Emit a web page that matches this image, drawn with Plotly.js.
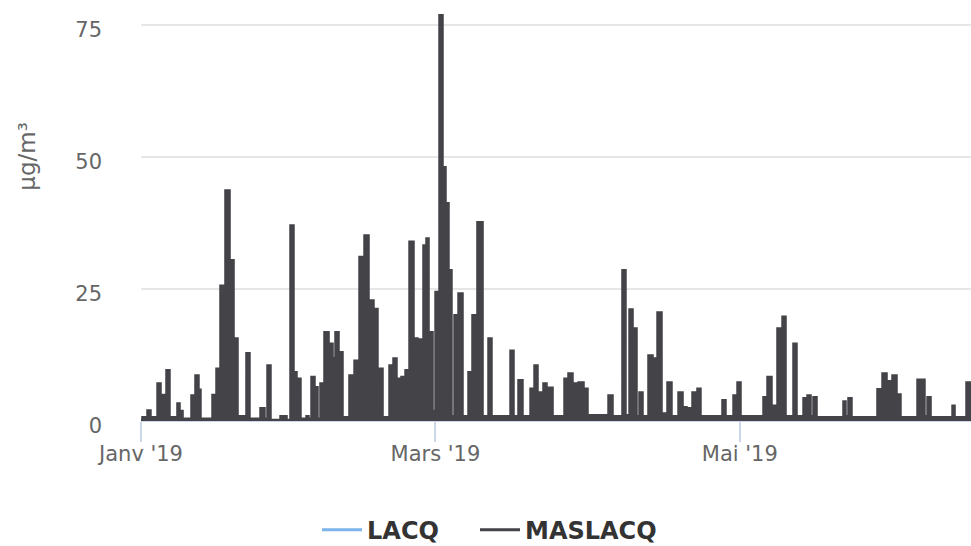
<!DOCTYPE html>
<html>
<head>
<meta charset="utf-8">
<script src="https://cdn.plot.ly/plotly-3.0.1.min.js"></script>
<style>
  html, body { margin: 0; padding: 0; background: #ffffff; }
  #chart { width: 971px; height: 546px; }
</style>
</head>
<body>
<div id="chart"></div>
<script>
// Start of series: 2019-01-01 00:00 UTC; offsets are in days (step series, each value holds until the next offset)
const seriesStart = Date.UTC(2019, 0, 1);

const maslacqDays = [0, 0.20, 1.20, 2.00, 3.21, 4.01, 5.01, 5.81, 7.21, 7.82, 8.42, 10.02, 10.82, 11.62, 12.02,
  14.23, 15.03, 15.83, 16.83, 17.84, 18.64, 19.44, 21.04, 21.84, 23.85, 24.85, 25.25, 26.05, 27.86, 29.26,
  29.86, 30.66, 31.26, 32.06, 33.07, 33.67, 34.07, 34.87, 35.47, 35.87, 36.67, 37.68, 38.48, 38.88, 39.68,
  40.48, 41.68, 42.69, 43.69, 44.69, 45.69, 46.69, 47.49, 48.50, 49.70, 50.50, 51.30, 52.10, 52.91, 53.71,
  54.71, 55.51, 56.51, 57.11, 57.72, 58.52, 58.92, 59.72, 60.52, 61.12, 61.72, 62.32, 62.73, 63.53, 64.53,
  65.53, 66.33, 67.33, 68.54, 69.54, 70.34, 73.95, 74.75, 75.55, 76.55, 77.96, 78.76, 79.56, 80.56, 81.36,
  81.56, 82.57, 84.77, 85.57, 86.57, 87.37, 87.58, 88.78, 89.58, 93.59, 94.59, 96.39, 97.19, 97.80, 98.60,
  99.40, 99.80, 100.60, 101.60, 102.61, 103.41, 104.41, 105.41, 106.41, 107.62, 108.62, 109.42, 110.42,
  111.42, 112.22, 116.43, 117.23, 118.64, 119.44, 120.24, 124.65, 125.45, 126.45, 127.45, 128.26, 128.46,
  129.26, 130.66, 131.46, 132.67, 133.47, 134.27, 134.67, 135.47, 140.68, 141.28, 141.68, 142.48, 147.49,
  148.50, 149.50, 150.50, 151.50, 152.30, 155.51, 157.11, 157.52, 158.32, 162.53, 163.13, 165.33, 166.40];

const maslacqValues = [0.3, 0.8, 2.1, 0.8, 7.2, 5.0, 9.7, 0.8, 3.4, 2.0, 0.5, 4.9, 8.7, 6.0, 0.5,
  5.0, 10.0, 25.7, 43.7, 30.5, 15.7, 1.0, 12.9, 0.5, 2.5, 0.5, 10.6, 0.3, 1.0, 0.3,
  37.1, 9.3, 8.1, 0.5, 1.0, 0.5, 8.4, 6.5, 0.5, 7.2, 16.9, 14.7, 12.0, 16.9, 13.1,
  0.8, 8.7, 11.5, 31.1, 35.2, 22.9, 21.3, 10.0, 0.8, 10.6, 11.9, 8.1, 8.4, 9.7, 34.0,
  15.7, 15.5, 33.3, 34.6, 16.9, 2.0, 24.5, 76.9, 48.1, 41.3, 28.6, 1.0, 20.1, 24.2, 1.0,
  9.3, 20.1, 37.7, 1.0, 15.7, 1.0, 13.4, 1.0, 7.8, 1.0, 6.2, 10.6, 5.5, 7.2, 0.8,
  6.4, 1.0, 8.1, 9.1, 7.2, 0.8, 7.4, 6.2, 1.2, 4.9, 1.0, 28.6, 1.2, 21.2, 17.6,
  1.0, 5.5, 1.0, 12.5, 11.9, 20.6, 1.5, 7.4, 1.0, 5.5, 2.7, 2.5, 5.5,
  6.2, 1.0, 4.0, 1.0, 4.9, 7.4, 1.0, 4.6, 8.4, 3.0, 17.6, 10.0, 19.8,
  1.0, 14.7, 1.0, 4.4, 4.9, 1.0, 4.6, 0.8, 3.8, 1.0, 4.4, 0.8, 6.1,
  9.1, 7.6, 8.7, 5.1, 0.8, 7.9, 1.0, 4.6, 0.8, 3.0, 0.8, 7.4, 7.4];

// LACQ has no measurements in the displayed period
const lacqDays = [0, 166.40];
const lacqValues = [null, null];

const seriesNames = ['LACQ', 'MASLACQ'];
const seriesColors = ['#7cb5ec', '#434348'];
const tickDates = ['2019-01-01', '2019-03-01', '2019-05-01'];
const tickLabels = ["Janv '19", "Mars '19", "Mai '19"];
const yTicks = [0, 25, 50, 75];
const yTitle = 'µg/m³';
const viewEndDay = 166.33;

function toDate(d) {
  return new Date(seriesStart + d * 86400000).toISOString().replace('T', ' ').slice(0, 19);
}

const traces = [
  {
    name: seriesNames[0],
    legend: 'legend',
    x: lacqDays.map(toDate),
    y: lacqValues,
    type: 'scatter',
    mode: 'lines',
    connectgaps: false,
    line: { color: seriesColors[0], width: 3 }
  },
  {
    name: seriesNames[1],
    showlegend: false,
    x: maslacqDays.map(toDate),
    y: maslacqValues,
    type: 'scatter',
    mode: 'lines',
    line: { color: seriesColors[1], width: 1.5, shape: 'hv' },
    fill: 'tozeroy',
    fillcolor: seriesColors[1]
  },
  {
    // legend entry for MASLACQ (line symbol, like the reference)
    name: seriesNames[1],
    legend: 'legend2',
    x: lacqDays.map(toDate),
    y: lacqValues,
    type: 'scatter',
    mode: 'lines',
    line: { color: seriesColors[1], width: 3 },
    hoverinfo: 'skip'
  }
];

const legendFont = { family: 'DejaVu Sans, sans-serif', size: 24, color: '#333333', weight: 'bold' };

const layout = {
  width: 971,
  height: 546,
  margin: { l: 141, r: 0, t: 14, b: 125, autoexpand: false },
  paper_bgcolor: '#ffffff',
  plot_bgcolor: '#ffffff',
  font: { family: 'DejaVu Sans, sans-serif', color: '#666666', size: 21 },
  showlegend: true,
  legend: {
    orientation: 'h',
    x: 0.3265,
    xanchor: 'left',
    xref: 'container',
    y: -0.268,
    yref: 'paper',
    yanchor: 'middle',
    font: legendFont,
    itemwidth: 40
  },
  legend2: {
    orientation: 'h',
    x: 0.4892,
    xanchor: 'left',
    xref: 'container',
    y: -0.268,
    yref: 'paper',
    yanchor: 'middle',
    font: legendFont,
    itemwidth: 40
  },
  xaxis: {
    type: 'date',
    range: [toDate(0), toDate(viewEndDay)],
    tickvals: tickDates,
    ticktext: tickLabels,
    ticks: 'outside',
    ticklen: 20,
    tickwidth: 2,
    tickcolor: '#ccd6eb',
    ticklabelstandoff: -6,
    showline: false,
    showgrid: false,
    zeroline: false,
    tickfont: { family: 'DejaVu Sans, sans-serif', size: 21, color: '#666666' },
    fixedrange: true
  },
  yaxis: {
    range: [0, 77],
    tickvals: yTicks,
    ticks: '',
    showgrid: true,
    gridcolor: '#e6e6e6',
    gridwidth: 2,
    zeroline: true,
    zerolinecolor: '#ccd6eb',
    zerolinewidth: 2,
    showline: false,
    ticklabelstandoff: 38,
    ticklabelshift: 5,
    tickfont: { family: 'DejaVu Sans, sans-serif', size: 21, color: '#666666' },
    fixedrange: true
  },
  annotations: [
    {
      text: yTitle,
      xref: 'paper',
      yref: 'paper',
      x: -0.137,
      y: 0.65,
      xanchor: 'center',
      yanchor: 'middle',
      textangle: -90,
      showarrow: false,
      font: { family: 'DejaVu Sans, sans-serif', size: 23, color: '#666666' }
    }
  ]
};

Plotly.newPlot('chart', traces, layout, { displayModeBar: false, staticPlot: true });
</script>
</body>
</html>
